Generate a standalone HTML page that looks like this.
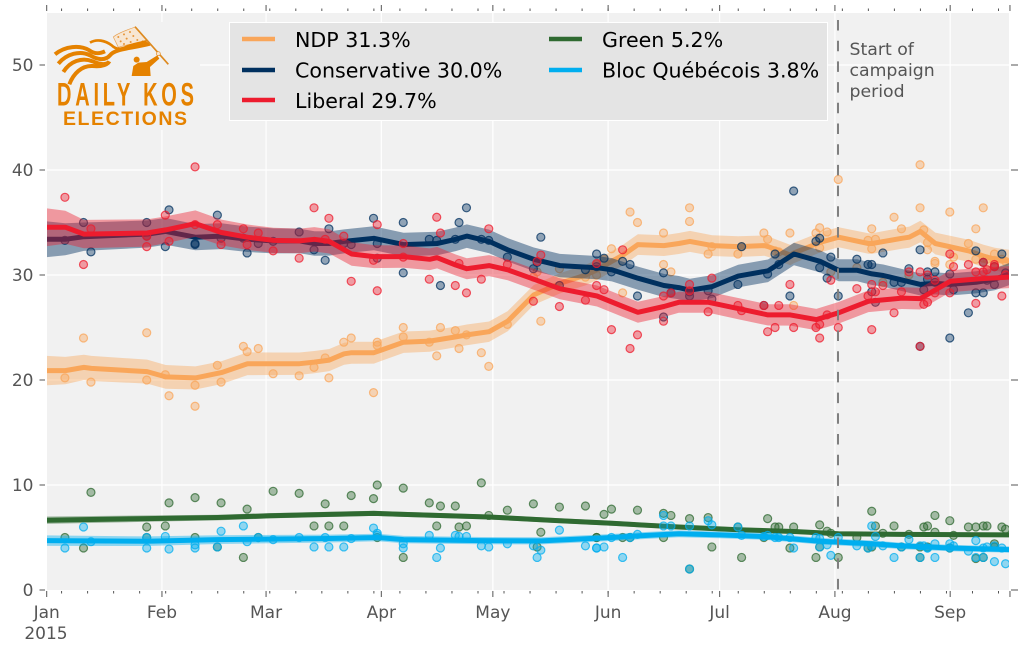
<!DOCTYPE html>
<html>
<head>
<meta charset="utf-8">
<title>Canadian federal polling 2015</title>
<style>
html,body{margin:0;padding:0;background:#fff;}
svg{display:block;font-family:"DejaVu Sans","Liberation Sans",sans-serif;}
</style>
</head>
<body>
<svg id="chart" xmlns="http://www.w3.org/2000/svg" width="1021" height="655" viewBox="0 0 1021 655">
  <defs><clipPath id="plot-clip"><rect x="47" y="13" width="962" height="577"/></clipPath></defs>
  <rect x="47" y="13" width="962" height="577" fill="#f1f1f1"/>
  <g id="grid"></g>
  <g id="ticks"></g>
  <g id="marks" clip-path="url(#plot-clip)"></g>

  <g>
    <rect x="47" y="22" width="153" height="108" fill="#f1f1f1"/>
    <g transform="translate(50,22) scale(0.3333)">
      <path d="M190,45 C205,32 230,25 255,15 L295,60 C265,62 235,66 205,76 Z" fill="#f7e6d2" stroke="#e8a050" stroke-width="2"/>
      <g fill="#e8963a">
        <circle cx="205" cy="45" r="3"/><circle cx="222" cy="37" r="3"/><circle cx="240" cy="30" r="3"/>
        <circle cx="212" cy="58" r="3"/><circle cx="230" cy="50" r="3"/><circle cx="250" cy="42" r="3"/>
        <circle cx="222" cy="66" r="3"/><circle cx="242" cy="60" r="3"/><circle cx="262" cy="54" r="3"/><circle cx="278" cy="58" r="3"/>
      </g>
      <g fill="none" stroke="#e58200" stroke-width="12" stroke-linecap="butt">
        <path d="M15,97 C45,72 90,68 118,85 C135,97 150,95 165,88"/>
        <path d="M25,125 C50,95 90,85 120,100 C140,112 165,118 180,100 C195,80 240,80 300,65"/>
        <path d="M40,150 C60,118 95,105 128,118 C150,128 172,130 178,118"/>
        <path d="M58,187 C70,155 95,130 128,132 C150,134 165,132 175,122"/>
        <path d="M120,62 C140,50 165,55 185,70 C200,85 215,82 235,72 C255,65 275,62 290,58" stroke-width="8"/>
      </g>
      <line x1="255" y1="14" x2="355" y2="127" stroke="#dd8a20" stroke-width="5"/>
      <circle cx="260" cy="113" r="9" fill="#e58200"/>
      <path d="M245,162 L250,132 L265,122 L290,120 L322,100 L328,110 L300,135 L302,162 Z" fill="#e58200"/>
      <circle cx="325" cy="95" r="6" fill="#f7e6d2" stroke="#e58a1e" stroke-width="2"/>
    </g>
    <text transform="translate(57,105.5) scale(1,1.62)" x="0" y="0" font-family="'Liberation Sans','DejaVu Sans',sans-serif" font-weight="bold" font-size="20" fill="#e58200" textLength="137" lengthAdjust="spacing">DAILY KOS</text>
    <text x="63" y="125" font-family="'Liberation Sans','DejaVu Sans',sans-serif" font-weight="bold" font-size="19.5" fill="#e58200" textLength="124" lengthAdjust="spacing">ELECTIONS</text>
  </g>

  <g>
    <rect x="229.5" y="22.5" width="598" height="98" fill="#e4e4e4" stroke="#ffffff" stroke-width="1"/>
    <g>
      <line x1="242" x2="275" y1="39" y2="39" stroke="#f9a65a" stroke-width="4.5"/>
      <text x="295" y="47" font-size="20.6" fill="#000">NDP 31.3%</text>
    </g>
    <g>
      <line x1="242" x2="275" y1="70" y2="70" stroke="#00305f" stroke-width="4.5"/>
      <text x="295" y="77.5" font-size="20.6" fill="#000">Conservative 30.0%</text>
    </g>
    <g>
      <line x1="242" x2="275" y1="100" y2="100" stroke="#ed1c2e" stroke-width="4.5"/>
      <text x="295" y="108" font-size="20.6" fill="#000">Liberal 29.7%</text>
    </g>
    <g>
      <line x1="549" x2="582" y1="39" y2="39" stroke="#2f6a31" stroke-width="4.5"/>
      <text x="602" y="47" font-size="20.6" fill="#000">Green 5.2%</text>
    </g>
    <g>
      <line x1="549" x2="582" y1="70" y2="70" stroke="#00aeef" stroke-width="4.5"/>
      <text x="602" y="77.5" font-size="20.6" fill="#000">Bloc Québécois 3.8%</text>
    </g>
  </g>

  <line x1="838" x2="838" y1="-0.7" y2="590" stroke="#808080" stroke-width="2" stroke-dasharray="10.5 10.2" clip-path="url(#plot-clip)"/>
  <g font-size="17.3" fill="#555">
    <text x="849.5" y="55">Start of</text>
    <text x="849.5" y="76">campaign</text>
    <text x="849.5" y="97">period</text>
  </g>
  <g id="labels"></g>
</svg>

<script>
// ---- axis data ----
const yTicks = [0, 10, 20, 30, 40, 50];
const monthDays = [0, 31, 59, 90, 120, 151, 181, 212, 243];
const monthLabels = ['Jan', 'Feb', 'Mar', 'Apr', 'May', 'Jun', 'Jul', 'Aug', 'Sep'];
const yearLabel = '2015';
const lastDay = 259;

// ---- poll results (one entry per poll, all arrays aligned) ----
const pollDays = [5,10,12,27,27,32,33,40,40,46,47,53,54,57,61,68,72,75,76,80,82,88,89,89,96,96,103,105,106,110,111,113,117,119,124,131,132,133,138,145,148,148,150,152,155,157,159,166,166,168,
  173,173,178,179,186,187,193,194,196,197,200,201,207,208,208,210,211,213,218,221,222,222,223,225,228,230,232,235,235,236,237,237,239,239,243,243,244,248,250,250,252,252,253,255,255,257,258];
const ndpPolls = [20.2,24,19.8,24.5,20,20.5,18.5,19.5,17.5,21.4,19.8,23.2,22.7,23,20.6,20.4,21.2,22.1,20.2,23.6,24,18.8,23.6,23.3,25,24.1,23.6,22.3,25,24.7,23,24.3,22.6,21.3,25.3,29.8,30.3,25.6,30.6,29.8,30,31,31.5,32.5,28.3,36,35,34,31,30.3,
  36.4,35.1,32,32.7,32,32.7,34,33.4,32.3,32.2,34,27.1,34,34.5,32.6,34.1,30.3,39.1,30.7,33.3,34.4,32.5,33.4,29.3,35.5,34.4,30,40.5,36.4,34.3,33.1,32.4,31.3,31.1,36,31,31.7,33,34.4,31.5,36.4,31.6,31.5,32,31.4,31.5,31.3];
const conPolls = [33.3,35,32.2,35,33.7,32.7,36.2,33,32.9,35.7,33.5,33.5,32.1,33,33.2,34.1,32.4,31.4,34.4,33,32.9,35.4,33,31.6,35,30.2,33.4,33.3,29,33.4,35,36.4,33.4,33.3,31.7,30.6,31.2,33.6,29,30.5,32,30.8,31.6,30.3,31.3,31,28,30.2,26,28.3,
  28,28.4,28.5,27.7,29.1,32.7,27.1,30.1,32,31,28,38,33.2,33.5,30.7,29.7,31.7,28,31.5,31,31,28.4,27.4,32.1,29.3,29.3,30.6,32.4,23.2,28.6,30.3,29.6,30.3,29.3,30.1,24,28.6,26.4,32.3,28.3,31.2,28.3,29.5,29.1,30.8,32,30.2];
const libPolls = [37.4,31,34.4,32.7,33.7,35.7,33.2,40.3,34.8,34.8,32.9,34.4,32.9,34,32.3,31.6,36.4,33.4,35.4,33.7,29.4,31.4,34.8,28.5,33,31.7,29.6,35.5,34,29,31.1,28.3,29.6,34.4,31,27.5,31.3,31.9,27,27.6,31.1,29,28.6,24.8,32.4,23,24.3,28,25.6,28.3,
  29.1,28.5,26.5,29.7,27.1,26.6,27.1,24.6,25,27.1,29.1,25,25,25.3,24,26.2,29.5,25,28.7,28,29.1,24.8,28.4,29,26.4,28.4,30.3,30.3,23.2,27.2,27.4,30,28.3,29.5,32,28.3,30.8,31,30.3,27.3,31.2,30.3,30.5,30.8,31,28,30];
const grnPolls = [5,4,9.3,6,5,6.1,8.3,5,8.8,4.1,8.3,3.1,7.7,5,9.4,9.2,6.1,8.2,6.1,6.1,9,8.7,10,5,9.7,3.1,8.3,6.1,8,8,6,6.1,10.2,7.1,7.6,8.2,4.1,5.5,7.9,8,5,5,7.2,7.7,5,5,7.6,7.3,5,7.1,
  6.8,2,6.9,4.1,6,3.1,5,6.8,6,6,4,6,3.1,6.2,4.1,5.6,5.4,3.1,5,4,7.5,4.1,6.1,5.4,6.1,4.1,5.3,4.1,3.1,6,6.1,4.1,7.1,5.5,6.6,4,5.2,6,6,3,6.1,3.1,6.1,4.4,4.1,6,5.8];
const blocPolls = [4,6,4.6,5,4,5.1,3.9,4.3,4,4.1,5.6,6.1,4.6,5,4.8,5,4.1,5,4.1,4.1,4.9,5.9,5.4,5.2,4.4,4,5.2,3.1,4,5.2,5.1,5.1,4.2,4.1,4.4,4.2,3.1,3.8,5.7,4.2,4,4,4.1,5,3.1,5,5.3,7.1,6.1,6.1,
  6.1,2,6.6,6.2,6,5.2,5.1,5.2,5,5,5,4,5,4.9,4.1,4.3,3.3,5,4.2,4,6.1,4.2,5.1,4.2,3.1,4.1,4.8,4.2,3.1,4.2,4,4,4.4,3.1,4.4,4,4.2,3.7,4.7,3.1,3.1,4,4.1,2.7,4.2,4,2.5];

// ---- trend estimates ----
const ndpTrendDays = [0,5,10,12,27,32,40,47,54,61,68,72,76,80,82,88,96,103,110,113,119,124,131,138,145,148,152,155,159,166,170,173,179,186,193,194,200,201,208,213,221,222,230,232,235,239,248,252,255,259];
const ndpTrend = [20.9,20.9,21.2,21.1,20.8,20.3,20.2,20.7,21.55,21.55,21.55,21.7,21.9,22.5,22.6,22.6,23.6,23.7,24.1,24.3,24.6,25.6,28.1,29.2,30,30.5,31.3,31.9,32.9,32.8,33,33.2,32.8,32.7,32.8,32.7,31.9,32.1,33.1,33.6,33,33,33.5,33.6,34.15,33,32.3,31.8,31.5,31.3];
const conTrendDays = [0,5,10,27,32,40,47,54,61,68,72,76,80,88,96,105,110,113,119,124,131,138,148,152,159,166,170,173,179,186,194,201,208,213,218,222,225,235,239,243,250,255,259];
const conTrend = [33.4,33.4,33.65,33.9,34.15,33.6,33.7,33.4,33.25,33.25,33,33,33.2,33.5,32.9,33,33.4,33.7,33.2,32.4,31.5,30.9,30.7,30.5,29.7,29,28.8,28.55,28.9,29.9,30.4,32,31.3,30.45,30.45,30.1,29.95,29.1,29.2,29.1,29.3,29.6,30.1];
const libTrendDays = [0,5,10,27,32,40,47,54,61,68,72,76,79,82,88,96,103,105,110,113,119,124,131,138,148,155,159,166,170,178,186,194,200,207,213,221,230,235,243,251,259];
const libTrend = [34.55,34.55,33.9,34,34.3,34.9,34.05,33.6,33.3,33.25,33.4,33.2,32.6,32,31.75,31.75,31.5,31.65,30.95,30.6,30.9,30.5,29.6,28.7,28,27,26.45,27,27.4,27.4,26.8,26.2,26.2,25.75,26.4,27.5,27.8,27.75,29.4,29.65,29.8];
const grnTrendDays = [0,27,46,60,76,88,96,119,138,152,170,186,201,213,230,259];
const grnTrend = [6.65,6.8,6.9,7.07,7.2,7.3,7.2,6.95,6.6,6.35,6,5.73,5.57,5.35,5.3,5.25];
const blocTrendDays = [0,27,46,76,89,96,117,133,152,159,170,181,193,208,222,230,243,259];
const blocTrend = [4.7,4.65,4.8,4.9,5,4.8,4.7,4.68,5,5.15,5.35,5.25,5.1,4.65,4.4,4.2,4,3.85];

// ---- uncertainty half-widths ----
const ndpErrDays = [0,10,40,80,130,170,213,259];
const ndpErr = [1.4,1.2,1.1,1.05,0.95,1,0.95,1.1];
const conErrDays = [0,10,40,76,96,170,213,259];
const conErr = [1.7,1.35,1.25,1.15,1.13,1.1,1.05,1.05];
const libErrDays = [0,10,40,76,110,170,259];
const libErr = [1.8,1.35,1.25,1.15,1,1,1.05];
const grnErrDays = [0,60,259];
const grnErr = [0.35,0.25,0.2];
const blocErrDays = [0,60,100,259];
const blocErr = [0.5,0.4,0.35,0.3];

// ---- axis functions ----
const xScale = function (d) { return 46.7 + 3.718 * d; };
const yScale = function (v) { return 590 - 10.5 * v; };
const pollOffset = -0.1;

const NS = 'http://www.w3.org/2000/svg';
const grid = document.getElementById('grid');
const ticks = document.getElementById('ticks');
const labels = document.getElementById('labels');
const marks = document.getElementById('marks');

function make(tag, parent) {
  const el = document.createElementNS(NS, tag);
  parent.appendChild(el);
  return el;
}
function setLine(el, x1, y1, x2, y2, color, w) {
  el.setAttribute('x1', x1);
  el.setAttribute('y1', y1);
  el.setAttribute('x2', x2);
  el.setAttribute('y2', y2);
  el.setAttribute('stroke', color);
  el.setAttribute('stroke-width', w);
}
function interp(days, vals, d) {
  if (d <= days[0]) return vals[0];
  for (let i = 1; i < days.length; i++) {
    if (d <= days[i]) {
      const t = (d - days[i - 1]) / (days[i] - days[i - 1]);
      return vals[i - 1] + t * (vals[i] - vals[i - 1]);
    }
  }
  return vals[vals.length - 1];
}

// grid + y ticks + y labels
yTicks.forEach(function (v) {
  const y = yScale(v);
  if (v > 0) {
    const g = make('line', grid);
    
    
    setLine(g, 47, y, 1009, y, '#ffffff', 1.2);
  }
  const l = make('line', ticks);
  
  
  setLine(l, 39.5, y, 45, y, '#555', 1);
  const r = make('line', ticks);
  
  
  setLine(r, 1011, y, 1018, y, '#555', 1);
  const t = make('text', labels);
  
  
  t.setAttribute('x', 33.5);
  t.setAttribute('y', y + 6);
  t.setAttribute('text-anchor', 'end');
  t.setAttribute('font-size', 17);
  t.setAttribute('fill', '#555');
  t.textContent = v;
});

// month grid + major ticks + labels
monthDays.forEach(function (d, i) {
  const x = xScale(d);
  if (d > 0) {
    const g = make('line', grid);
    
    
    setLine(g, x, 13, x, 590, '#ffffff', 1.2);
  }
  const b = make('line', ticks);
  
  
  setLine(b, x, 591, x, 597, '#555', 1);
  const a = make('line', ticks);
  
  
  setLine(a, x, 5, x, 11, '#555', 1);
  const t = make('text', labels);
  
  
  t.setAttribute('x', x);
  t.setAttribute('y', 618);
  t.setAttribute('text-anchor', 'middle');
  t.setAttribute('font-size', 17);
  t.setAttribute('fill', '#555');
  t.textContent = monthLabels[i];
});
const yearText = make('text', labels);


yearText.setAttribute('x', 46);
yearText.setAttribute('y', 639);
yearText.setAttribute('text-anchor', 'middle');
yearText.setAttribute('font-size', 17);
yearText.setAttribute('fill', '#555');
yearText.textContent = yearLabel;

// end-of-axis tick
const endBottom = make('line', ticks);


setLine(endBottom, xScale(lastDay) + 0.3, 591, xScale(lastDay) + 0.3, 597, '#555', 1);
const endTop = make('line', ticks);


setLine(endTop, xScale(lastDay) + 0.3, 5, xScale(lastDay) + 0.3, 11, '#555', 1);

// weekly minor ticks
for (let d = 4; d < lastDay; d += 7) {
  const x = xScale(d);
  const b = make('line', ticks);
  
  
  setLine(b, x, 591, x, 593.5, '#555', 1);
  const a = make('line', ticks);
  
  
  setLine(a, x, 8.5, x, 11, '#555', 1);
}

// series
function drawSeries(name, color, polls, tDays, tVals, eDays, eVals, bandOpacity, width) {
  const group = make('g', marks);
  
  

  pollDays.forEach(function (d, i) {
    const c = make('circle', group);
    
    
    c.setAttribute('cx', xScale(d + pollOffset));
    c.setAttribute('cy', yScale(polls[i]));
    c.setAttribute('r', 4);
    c.setAttribute('fill', color);
    c.setAttribute('fill-opacity', 0.4);
    c.setAttribute('stroke', color);
    c.setAttribute('stroke-opacity', 0.75);
    c.setAttribute('stroke-width', 1.2);
  });

  let up = '';
  let down = '';
  let mid = '';
  tDays.forEach(function (d, i) {
    const e = interp(eDays, eVals, d);
    up += (i ? ' L' : 'M') + xScale(d).toFixed(1) + ',' + yScale(tVals[i] + e).toFixed(1);
    down = ' L' + xScale(d).toFixed(1) + ',' + yScale(tVals[i] - e).toFixed(1) + down;
    mid += (i ? ' L' : 'M') + xScale(d).toFixed(1) + ',' + yScale(tVals[i]).toFixed(1);
  });
  const band = make('path', group);
  
  
  band.setAttribute('d', up + down + ' Z');
  band.setAttribute('fill', color);
  band.setAttribute('fill-opacity', bandOpacity);
  band.setAttribute('stroke', 'none');

  const line = make('path', group);
  
  
  line.setAttribute('d', mid);
  line.setAttribute('fill', 'none');
  line.setAttribute('stroke', color);
  line.setAttribute('stroke-width', width);
  line.setAttribute('stroke-linejoin', 'round');
}

drawSeries('ndp', '#f9a65a', ndpPolls, ndpTrendDays, ndpTrend, ndpErrDays, ndpErr, 0.42, 5);
drawSeries('conservative', '#00305f', conPolls, conTrendDays, conTrend, conErrDays, conErr, 0.44, 5);
drawSeries('liberal', '#ed1c2e', libPolls, libTrendDays, libTrend, libErrDays, libErr, 0.42, 5);
drawSeries('green', '#2f6a31', grnPolls, grnTrendDays, grnTrend, grnErrDays, grnErr, 0.42, 5);
drawSeries('bloc', '#00aeef', blocPolls, blocTrendDays, blocTrend, blocErrDays, blocErr, 0.42, 5);
</script>
</body>
</html>
